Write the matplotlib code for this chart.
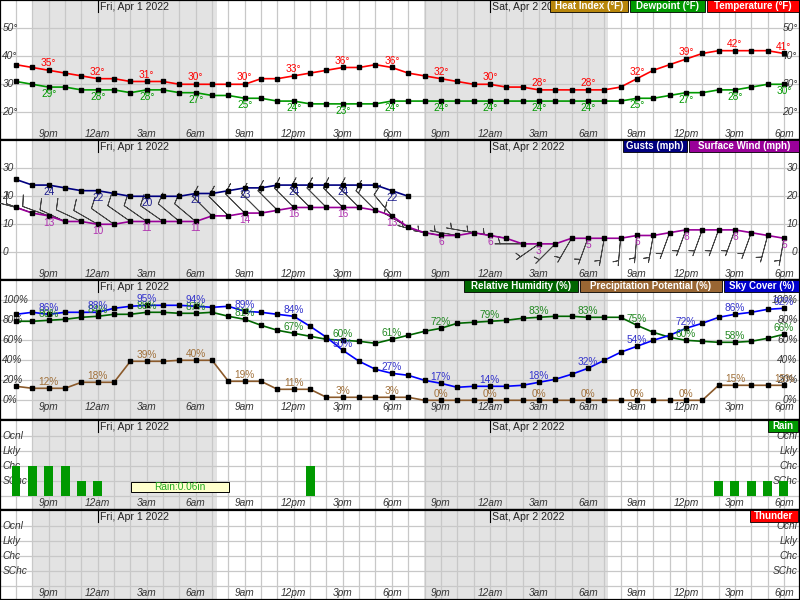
import numpy as np
import matplotlib.pyplot as plt
from matplotlib.patches import Rectangle
from matplotlib import transforms

plt.rcParams['font.family'] = ['Liberation Sans', 'DejaVu Sans']

# hourly points, first one is 7pm
hours = np.arange(48)
tick_idx = np.arange(2, 48, 3)
tick_names = ['9pm', '12am', '3am', '6am', '9am', '12pm', '3pm', '6pm'] * 2
date_idx = [5, 29]
date_names = ['Fri, Apr 1 2022', 'Sat, Apr 2 2022']
night_start = [0.98, 24.98]
night_end = [12.29, 36.23]

temperature = [37, 36, 35, 34, 33, 32, 32, 31, 31, 31, 30, 30, 30, 30, 30, 32, 32, 33, 34, 35, 36, 36, 37, 36,
               34, 33, 32, 31, 30, 30, 29, 29, 28, 28, 28, 28, 28, 29, 32, 35, 37, 39, 41, 42, 42, 42, 42, 41]
dewpoint = [31, 30, 29, 29, 28, 28, 28, 27, 28, 28, 27, 27, 26, 26, 25, 25, 24, 24, 23, 23, 23, 23, 23, 24,
            24, 24, 24, 24, 24, 24, 24, 24, 24, 24, 24, 24, 24, 24, 25, 25, 26, 27, 27, 28, 28, 29, 30, 30]
gusts = [26, 24, 24, 23, 22, 22, 21, 20, 20, 20, 20, 21, 21, 22, 23, 23, 24, 24, 24, 24, 24, 24, 24, 22, 20]
wind_speed = [16, 14, 13, 11, 11, 10, 10, 11, 11, 11, 11, 11, 13, 13, 14, 14, 15, 16, 16, 16, 16, 16, 15, 13,
              9, 7, 6, 6, 7, 6, 5, 3, 3, 3, 5, 5, 5, 5, 6, 6, 7, 8, 8, 8, 8, 7, 6, 5]
wind_dir = [285, 290, 290, 295, 295, 300, 305, 305, 305, 305, 310, 310, 315, 315, 315, 315, 315, 315, 315, 315,
            315, 315, 315, 320, 300, 285, 280, 280, 280, 280, 280, 270, 235, 225, 210, 200, 190, 185, 185, 190,
            200, 200, 200, 200, 200, 200, 195, 190]
rel_humidity = [79, 79, 80, 81, 83, 84, 86, 86, 88, 88, 87, 87, 88, 84, 81, 75, 70, 67, 64, 61, 60, 59, 57, 61,
                65, 69, 72, 77, 78, 79, 80, 82, 83, 84, 84, 83, 83, 83, 75, 68, 63, 60, 59, 58, 58, 59, 62, 66]
precip_pot = [14, 12, 12, 12, 18, 18, 18, 39, 39, 39, 40, 40, 40, 19, 19, 19, 11, 11, 11, 3, 3, 3, 3, 3,
              3, 0, 0, 0, 0, 0, 0, 0, 0, 0, 0, 0, 0, 0, 0, 0, 0, 0, 0, 15, 15, 15, 15, 15]
sky_cover = [86, 88, 86, 88, 88, 88, 92, 94, 95, 95, 95, 94, 93, 94, 89, 88, 86, 84, 74, 63, 50, 39, 31, 27,
             25, 20, 17, 13, 14, 14, 14, 15, 18, 21, 26, 32, 40, 48, 54, 60, 65, 72, 77, 83, 86, 88, 91, 92]
# 0 none, 1 SChc, 2 Chc, 3 Lkly, 4 Ocnl
rain_chance = [2, 2, 2, 2, 1, 1, 0, 0, 0, 0, 0, 0, 0, 0, 0, 0, 0, 0, 2, 0, 0, 0, 0, 0,
               0, 0, 0, 0, 0, 0, 0, 0, 0, 0, 0, 0, 0, 0, 0, 0, 0, 0, 0, 1, 1, 1, 1, 1]
thunder_chance = [0] * 48
chance_names = ['SChc', 'Chc', 'Lkly', 'Ocnl']
rain_total = 'Rain:0.06in'

fig = plt.figure(figsize=(8, 6), dpi=100)
GRID = '#c8c8c8'
TXT = '#333333'
FS = 7.3


def panel(top, height, ylim, yticks, ylabels, xlab_y):
    ax = fig.add_axes([0, 1 - (top + height) / 600, 1, height / 600])
    ax.set_xlim(-0.979, 47.98)
    ax.set_ylim(*ylim)
    for s in ax.spines.values():
        s.set_linewidth(1.6)
        s.set_color('black')
    ax.set_xticks(hours)
    ax.set_yticks(yticks)
    ax.tick_params(length=0, labelbottom=False, labelleft=False)
    ax.grid(color=GRID, lw=0.9)
    ax.set_axisbelow(True)
    for a, b in zip(night_start, night_end):
        ax.axvspan(a, b, color='#e3e3e3', lw=0, zorder=0)
    ty = transforms.blended_transform_factory(ax.transAxes, ax.transData)
    for v, s in zip(yticks, ylabels):
        ax.text(0.003, v, s, transform=ty, ha='left', va='center', style='italic', fontsize=FS, color=TXT)
        ax.text(0.997, v, s, transform=ty, ha='right', va='center', style='italic', fontsize=FS, color=TXT)
    tx = transforms.blended_transform_factory(ax.transData, ax.transAxes)
    for i, s in zip(tick_idx, tick_names):
        ax.text(i, xlab_y, s, transform=tx, ha='center', va='center', style='italic', fontsize=FS, color=TXT)
    for i, s in zip(date_idx, date_names):
        ax.plot([i, i], [1 - 12 / height, 1 - 1 / height], transform=tx, color='black', lw=0.8)
        ax.text(i + 0.15, 1 - 7 / height, s, transform=tx, ha='left', va='center', fontsize=7.6, color='#222222')
    return ax


def legend_boxes(ax, height, boxes):
    for x0, x1, s, c in boxes:
        ax.add_patch(Rectangle((x0 / 800, 1 - 12 / height), (x1 - x0) / 800, 12 / height,
                               transform=ax.transAxes, fc=c, ec='black', lw=0.6, zorder=10))
        ax.text((x0 + x1) / 1600, 1 - 6 / height, s, transform=ax.transAxes, ha='center', va='center',
                color='white', fontweight='bold', fontsize=7, zorder=11)


def series(ax, vals, color, lw=1.2):
    ax.plot(np.arange(len(vals)), vals, color=color, lw=lw, marker='s', ms=2.8, mfc='black', mec='black', zorder=4)


def point_labels(ax, vals, color, dy, fmt):
    for i in tick_idx:
        if i < len(vals):
            ax.annotate(fmt % vals[i], (i, vals[i]), xytext=(0, dy), textcoords='offset points',
                        ha='center', va='center', fontsize=FS, color=color, zorder=6)


# temperature panel
ax1 = panel(0, 140, (10.1, 60.1), [20, 30, 40, 50], ['20°', '30°', '40°', '50°'], 0.043)
series(ax1, dewpoint, '#009900')
series(ax1, temperature, '#ff0000')
point_labels(ax1, temperature, '#ff0000', 5, '%d°')
point_labels(ax1, dewpoint, '#009900', -5, '%d°')
legend_boxes(ax1, 140, [(550, 628, 'Heat Index (°F)', '#b8860b'),
                        (630, 705, 'Dewpoint (°F)', '#009900'),
                        (707, 799, 'Temperature (°F)', '#ff0000')])

# wind panel
ax2 = panel(140, 140, (-9.9, 40.1), [0, 10, 20, 30], ['0', '10', '20', '30'], 0.043)
spd_kt = np.array(wind_speed) * 0.869
rad = np.deg2rad(wind_dir)
ax2.barbs(hours, wind_speed, -spd_kt * np.sin(rad), -spd_kt * np.cos(rad),
          length=6.3, color='#444444', linewidth=0.6, zorder=3)
series(ax2, gusts, '#000080')
series(ax2, wind_speed, '#990099')
point_labels(ax2, gusts, '#1a1a8c', -5, '%d')
point_labels(ax2, wind_speed, '#b030b0', -5, '%d')
legend_boxes(ax2, 140, [(623, 687, 'Gusts (mph)', '#000080'),
                        (689, 799, 'Surface Wind (mph)', '#990099')])

# humidity / precip / sky panel
ax3 = panel(280, 140, (-19.7, 120.3), [0, 20, 40, 60, 80, 100],
            ['0%', '20%', '40%', '60%', '80%', '100%'], 0.095)
series(ax3, precip_pot, '#8b5a2b')
series(ax3, rel_humidity, '#006600')
series(ax3, sky_cover, '#0000ff')
point_labels(ax3, precip_pot, '#a0703a', 4.5, '%d%%')
point_labels(ax3, rel_humidity, '#228822', 4.5, '%d%%')
point_labels(ax3, sky_cover, '#3333cc', 4.5, '%d%%')
legend_boxes(ax3, 140, [(464, 578, 'Relative Humidity (%)', '#006600'),
                        (580, 722, 'Precipitation Potential (%)', '#996633'),
                        (724, 799, 'Sky Cover (%)', '#0000cc')])

# rain panel
ax4 = panel(420, 90, (-0.95, 5.05), [0, 1, 2, 3, 4], [''] + chance_names, 0.074)
ax4.bar(hours, rain_chance, width=0.55, color='#009900', zorder=3)
ax4.add_patch(Rectangle((7.04, 0.23), 6.0, 0.66, fc='#ffffcc', ec='black', lw=0.7, zorder=5))
ax4.text(10.04, 0.56, rain_total, ha='center', va='center', fontsize=FS, color='#22aa22', zorder=6)
legend_boxes(ax4, 90, [(768, 798, 'Rain', '#009900')])

# thunder panel
ax5 = panel(510, 90, (-0.95, 5.05), [0, 1, 2, 3, 4], [''] + chance_names, 0.074)
ax5.bar(hours, thunder_chance, width=0.55, color='#ff0000', zorder=3)
legend_boxes(ax5, 90, [(750, 798, 'Thunder', '#ff0000')])

fig.savefig('out.png', dpi=100)
